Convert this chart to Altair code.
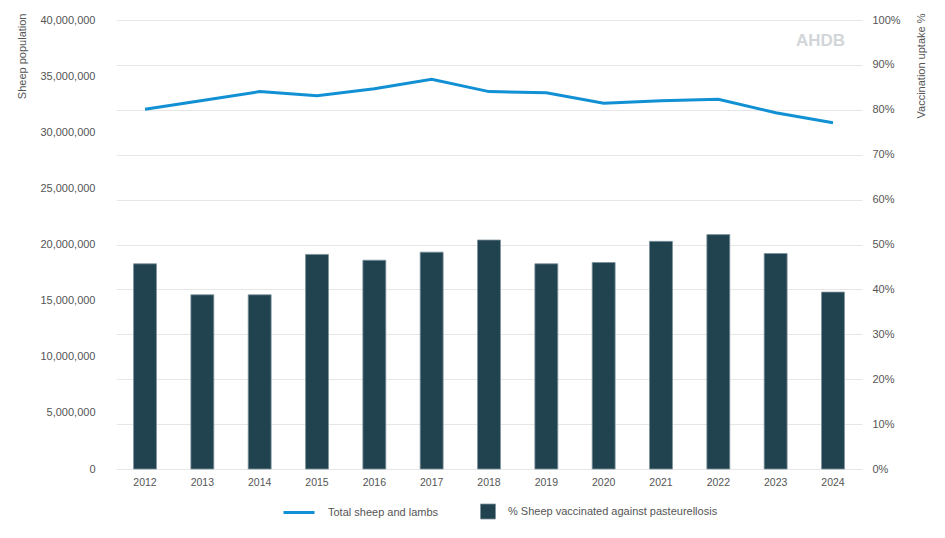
import altair as alt
import pandas as pd

years = ["2012", "2013", "2014", "2015", "2016", "2017", "2018",
         "2019", "2020", "2021", "2022", "2023", "2024"]
total_sheep = [32040000, 32820000, 33620000, 33260000, 33880000, 34710000, 33620000,
               33520000, 32580000, 32810000, 32930000, 31740000, 30850000]
vaccinated_pct = [45.7, 38.8, 38.8, 47.8, 46.5, 48.3, 51.0,
                  45.7, 46.0, 50.7, 52.2, 48.0, 39.4]
line_label = "Total sheep and lambs"
bar_label = "% Sheep vaccinated against pasteurellosis"

df = pd.DataFrame({
    "year": years,
    "total": total_sheep,
    "pct": vaccinated_pct,
    "s_line": [line_label] * len(years),
    "s_bar": [bar_label] * len(years),
})

FONT = "Liberation Sans"
LBL = "#555555"

x = alt.X("year:N", title=None,
          scale=alt.Scale(paddingInner=0.6, paddingOuter=0.306),
          axis=alt.Axis(labelAngle=0, domain=False, ticks=False, labelPadding=8,
                        labelFontSize=10.5, labelColor=LBL, labelFont=FONT, grid=False))

bars = alt.Chart(df).mark_bar(stroke="#7d939c", strokeWidth=0.8).encode(
    x=x,
    y=alt.Y("pct:Q", scale=alt.Scale(domain=[0, 100], nice=False),
            axis=alt.Axis(orient="right", values=list(range(0, 101, 10)),
                          labelExpr="datum.value + '%'", title="Vaccination uptake %",
                          grid=True, gridColor="#e6e6e6", domain=False, ticks=False,
                          tickSize=0, labelPadding=10, labelFontSize=11, labelColor=LBL,
                          labelFont=FONT, titleFont=FONT, titleFontSize=11,
                          titleFontWeight="normal", titleColor=LBL, titleAngle=-90,
                          titleAlign="right", titleBaseline="middle",
                          titleX=59, titleY=-7)),
    fill=alt.Fill("s_bar:N", scale=alt.Scale(domain=[bar_label], range=["#21424f"]),
                  legend=alt.Legend(title=None, orient="none", legendX=364, legendY=483.5,
                                    symbolType="square", symbolSize=225,
                                    symbolStrokeColor="#7d939c", symbolStrokeWidth=0.8,
                                    labelOffset=12, labelFontSize=11, labelColor=LBL,
                                    labelFont=FONT, labelLimit=400, padding=0)),
)

line = alt.Chart(df).mark_line(strokeWidth=3, color="#1190d4").encode(
    x=x,
    y=alt.Y("total:Q", scale=alt.Scale(domain=[0, 40000000], nice=False),
            axis=alt.Axis(orient="left", values=list(range(0, 40000001, 5000000)),
                          format=",d", title="Sheep population", grid=False,
                          domain=False, ticks=False, tickSize=0, labelPadding=21,
                          labelFontSize=11, labelColor=LBL, labelFont=FONT,
                          titleFont=FONT, titleFontSize=11, titleFontWeight="normal",
                          titleColor=LBL, titleAngle=-90, titleAlign="right",
                          titleBaseline="middle", titleX=-94, titleY=-7)),
    stroke=alt.Stroke("s_line:N", scale=alt.Scale(domain=[line_label], range=["#1190d4"]),
                      legend=alt.Legend(title=None, orient="none", legendX=166, legendY=475.5,
                                        symbolType="stroke", symbolSize=961,
                                        symbolStrokeWidth=3, labelOffset=12,
                                        labelFontSize=11, labelColor=LBL, labelFont=FONT,
                                        labelLimit=400, padding=0)),
)

chart = alt.layer(bars, line).resolve_scale(y="independent").properties(
    width=746,
    height=449,
    autosize=alt.AutoSizeParams(type="none"),
    padding={"left": 108, "top": 12, "right": 75, "bottom": 62},
    title=alt.TitleParams("AHDB", anchor="end", orient="top", frame="group",
                          fontSize=17, fontWeight="bold", color="#d2d6d9",
                          font=FONT, baseline="top", dx=-17, dy=41),
).configure_view(stroke=None)

chart.save("out.html", embed_options={"renderer": "svg", "actions": False})
